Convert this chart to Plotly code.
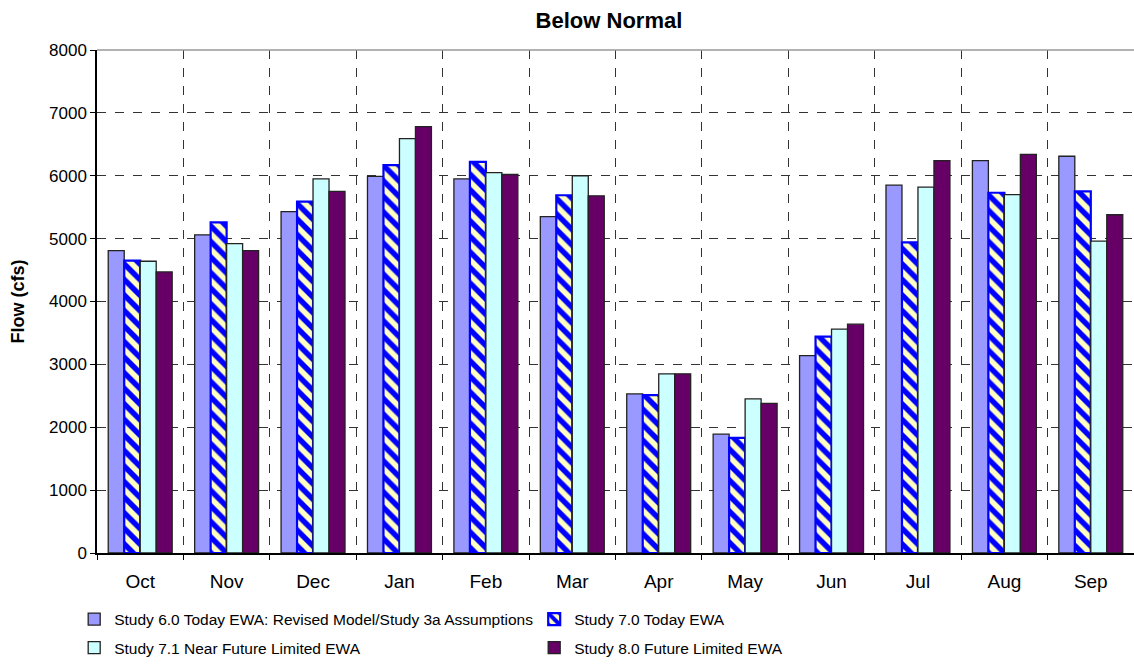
import plotly.graph_objects as go

months = ["Oct", "Nov", "Dec", "Jan", "Feb", "Mar", "Apr", "May", "Jun", "Jul", "Aug", "Sep"]
study_60 = [4810, 5060, 5430, 5990, 5950, 5350, 2530, 1890, 3140, 5850, 6240, 6310]
study_70 = [4650, 5260, 5590, 6170, 6220, 5690, 2510, 1830, 3440, 4940, 5730, 5750]
study_71 = [4640, 4920, 5950, 6590, 6050, 6000, 2850, 2450, 3560, 5820, 5700, 4960]
study_80 = [4470, 4810, 5750, 6780, 6020, 5680, 2850, 2380, 3640, 6240, 6340, 5380]

names = [
    "Study 6.0 Today EWA: Revised Model/Study 3a Assumptions",
    "Study 7.0 Today EWA",
    "Study 7.1 Near Future Limited EWA",
    "Study 8.0 Future Limited EWA",
]

fig = go.Figure()
fig.add_trace(go.Bar(x=months, y=study_60, name=names[0], legend="legend",
                     marker=dict(color="#9999FF", line=dict(color="#222222", width=1.3))))
fig.add_trace(go.Bar(x=months, y=study_70, name=names[1], legend="legend",
                     marker=dict(color="#FFFFC0", line=dict(color="#0000FF", width=2.2),
                                 pattern=dict(shape="\\", fgcolor="#0000FF", bgcolor="#FFFFC0",
                                              fgopacity=1, size=11, solidity=0.5,
                                              fillmode="overlay"))))
fig.add_trace(go.Bar(x=months, y=study_71, name=names[2], legend="legend2",
                     marker=dict(color="#CCFFFF", line=dict(color="#222222", width=1.3))))
fig.add_trace(go.Bar(x=months, y=study_80, name=names[3], legend="legend2",
                     marker=dict(color="#660066", line=dict(color="#222222", width=1.3))))

leg_common = dict(orientation="h", xanchor="left", yanchor="middle",
                  entrywidth=415, entrywidthmode="pixels", font=dict(size=15.5),
                  traceorder="normal", bgcolor="rgba(0,0,0,0)")
fig.update_layout(
    width=1134, height=665,
    margin=dict(l=97, r=0, t=50, b=111),
    paper_bgcolor="white", plot_bgcolor="white",
    font=dict(family="Liberation Sans, Arial, sans-serif", size=16, color="black"),
    title=dict(text="<b>Below Normal</b>", x=0.537, xanchor="center", y=0.97, yanchor="middle",
               font=dict(size=22)),
    barmode="group", bargap=0.26, bargroupgap=0,
    showlegend=True,
    legend=dict(x=-0.022, y=-0.13, **leg_common),
    legend2=dict(x=-0.022, y=-0.19, **leg_common),
    shapes=[dict(type="line", xref="paper", yref="paper", x0=0, x1=1, y0=1, y1=1,
                 line=dict(color="#999999", width=1.5))],
)
fig.update_xaxes(
    tickson="boundaries", showgrid=True, gridcolor="#333333", griddash="dash", gridwidth=1,
    ticks="outside", ticklen=5, tickcolor="black", ticklabelstandoff=10,
    showline=True, linecolor="black", linewidth=1.5,
    tickfont=dict(size=19),
)
fig.update_yaxes(
    range=[0, 8000], dtick=1000, showgrid=True, gridcolor="#333333", griddash="dash", gridwidth=1,
    ticks="outside", ticklen=5, tickcolor="black",
    showline=True, linecolor="black", linewidth=1.5, zeroline=False,
    tickfont=dict(size=17),
    title=dict(text="<b>Flow (cfs)</b>", font=dict(size=18), standoff=20),
)

fig.write_html("out.html", config={"displayModeBar": False},
               post_script="document.body.style.margin='0';")
